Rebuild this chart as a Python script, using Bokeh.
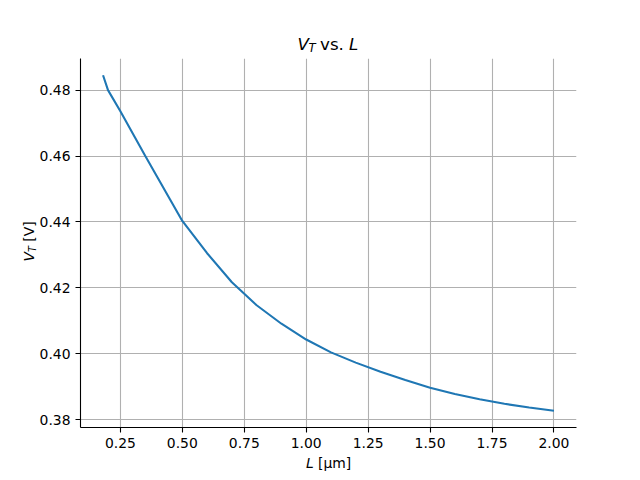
from bokeh.plotting import figure
from bokeh.models import Range1d, FixedTicker, NumeralTickFormatter, Label
from bokeh.embed import file_html
from bokeh.resources import INLINE
import math

# Data
L_um = [0.18, 0.20, 0.25, 0.30, 0.35, 0.40, 0.45, 0.50, 0.60, 0.70, 0.80, 0.90,
        1.00, 1.10, 1.20, 1.30, 1.40, 1.50, 1.60, 1.70, 1.80, 1.90, 2.00]
VT = [0.4845, 0.4800, 0.4736, 0.4668, 0.4601, 0.4535, 0.4469, 0.4403, 0.4305,
      0.4217, 0.4147, 0.4091, 0.4043, 0.4004, 0.3973, 0.3945, 0.3920, 0.3897,
      0.3878, 0.3862, 0.3848, 0.3837, 0.3827]
x_ticks = [0.25, 0.50, 0.75, 1.00, 1.25, 1.50, 1.75, 2.00]
y_ticks = [0.38, 0.40, 0.42, 0.44, 0.46, 0.48]

FONT = "DejaVu Sans"

xmin, xmax = min(L_um), max(L_um)
ymin, ymax = min(VT), max(VT)
xpad = 0.05 * (xmax - xmin)
ypad = 0.05 * (ymax - ymin)
X0, X1 = xmin - xpad, xmax + xpad
Y0, Y1 = ymin - ypad, ymax + ypad

FL, FT, FW, FH = 80, 58, 496, 369  # frame left/top/width/height in canvas pixels

p = figure(width=640, height=480, output_backend="svg", toolbar_location=None,
           x_range=Range1d(X0, X1), y_range=Range1d(Y0, Y1),
           frame_width=FW, frame_height=FH,
           min_border_left=FL, min_border_right=640 - FL - FW,
           min_border_top=FT, min_border_bottom=480 - FT - FH)
p.title.visible = False
p.outline_line_color = None
p.background_fill_color = "white"
p.border_fill_color = "white"

p.line(L_um, VT, line_color="#1f77b4", line_width=2.1)

for ax, ticks in ((p.xaxis, x_ticks), (p.yaxis, y_ticks)):
    ax.ticker = FixedTicker(ticks=ticks)
    ax.formatter = NumeralTickFormatter(format="0.00")
    ax.axis_line_color = "black"
    ax.axis_line_width = 1.1
    ax.major_tick_line_color = "black"
    ax.major_tick_line_width = 1.1
    ax.major_tick_out = 5
    ax.major_tick_in = 0
    ax.minor_tick_line_color = None
    ax.major_label_standoff = 5
    ax.major_label_text_font = FONT
    ax.major_label_text_font_size = "13.9px"
    ax.major_label_text_color = "black"

p.xgrid.ticker = FixedTicker(ticks=x_ticks)
p.ygrid.ticker = FixedTicker(ticks=y_ticks)
p.grid.grid_line_color = "#b0b0b0"
p.grid.grid_line_width = 1.1


def lab(text, cx, cy, size, side, italic=False, angle=0.0):
    # position given in canvas pixels, converted to data units through the ranges
    dx = X0 + (cx - FL) / FW * (X1 - X0)
    dy = Y0 + ((FT + FH) - cy) / FH * (Y1 - Y0)
    p.add_layout(Label(x=dx, y=dy, x_units="data", y_units="data",
                       text=text, text_font=FONT, text_font_size=size,
                       text_font_style="italic" if italic else "normal",
                       text_color="black", text_align="left",
                       text_baseline="alphabetic", angle=angle), side)


# Title: V_T vs. L
lab("V", 297, 43.5, "16.7px", "right", italic=True)
lab("T", 308, 47.5, "11.7px", "above", italic=True)
lab("vs.", 319.5, 43.5, "16.7px", "right")
lab("L", 348.5, 43.5, "16.7px", "right", italic=True)

# X label: L [μm]
lab("L", 305.4, 462, "13.9px", "above", italic=True)
lab("[μm]", 317.5, 462, "13.9px", "above")

# Y label: V_T [V] (rotated)
lab("V", 28.5, 261, "13.9px", "left", italic=True, angle=math.pi / 2)
lab("T", 32, 251.5, "9.7px", "left", italic=True, angle=math.pi / 2)
lab("[V]", 28.5, 241.2, "13.9px", "below", angle=math.pi / 2)

open("out.html", "w").write(file_html(p, INLINE))
